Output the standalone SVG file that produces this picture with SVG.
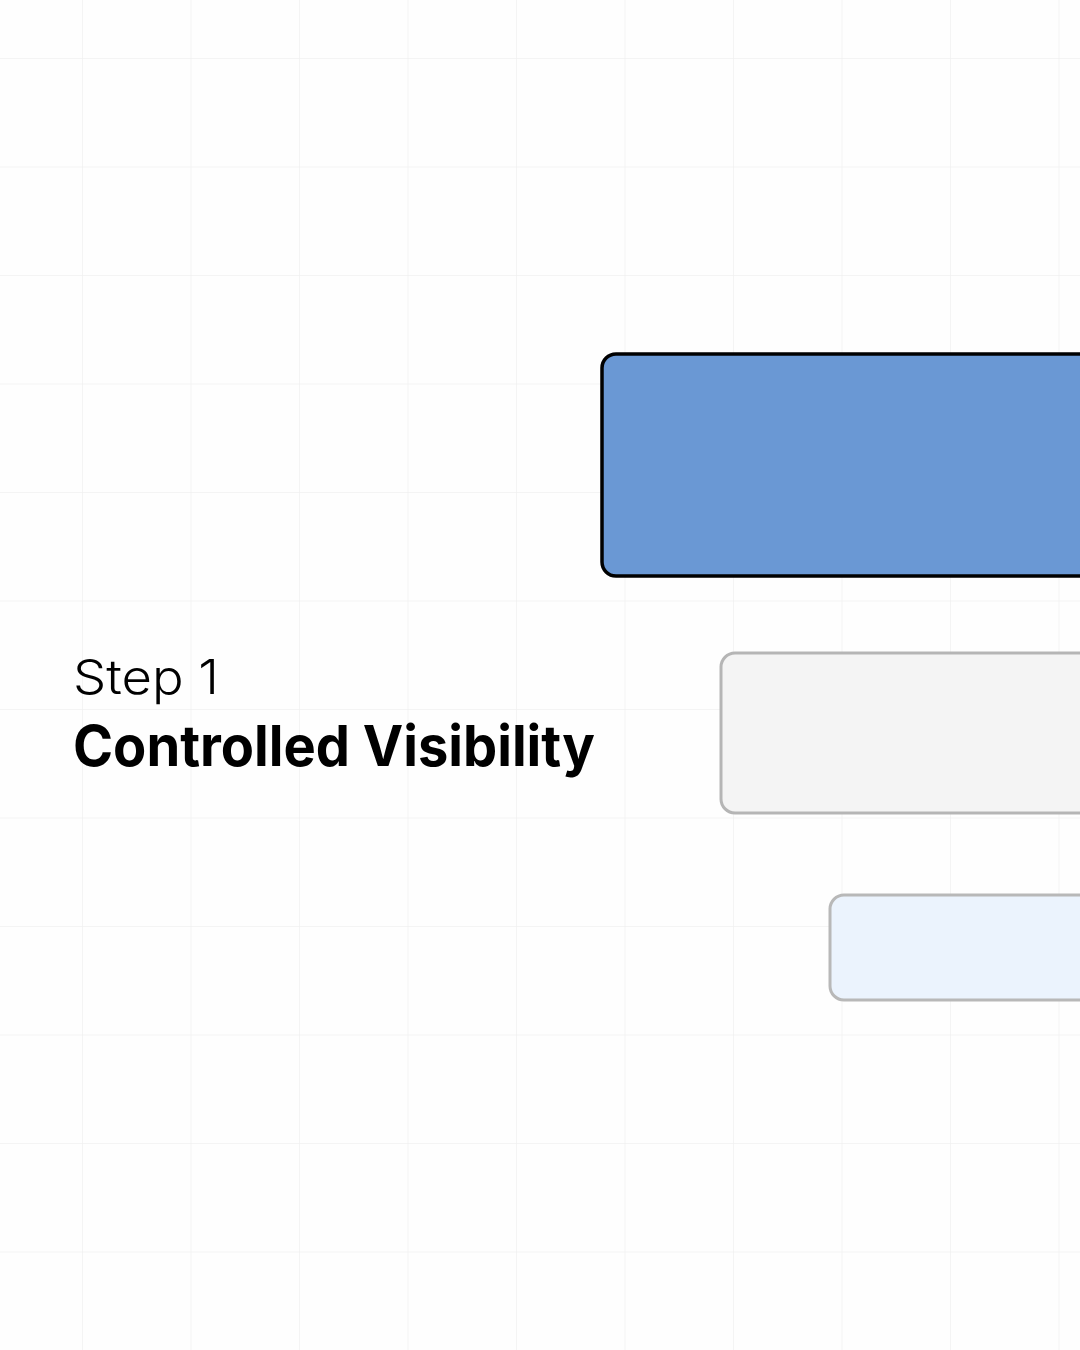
<svg xmlns="http://www.w3.org/2000/svg" width="1080" height="1350" viewBox="0 0 1080 1350">
  <defs>
    <pattern id="grid" x="82" y="58" width="108.5" height="108.5" patternUnits="userSpaceOnUse">
      <path d="M0 0 H108.5 M0 0 V108.5" fill="none" stroke="#f1f1f1" stroke-width="1.5"/>
    </pattern>
  </defs>
  <style>
    .box { stroke-width: 3; }
    .step { font-family: Inter, "Open Sans", "Liberation Sans", sans-serif; font-weight: 300; font-size: 48px; fill: #000; }
    .title { font-family: Inter, "Open Sans", "Liberation Sans", sans-serif; font-weight: 700; font-size: 56px; fill: #000; }
  </style>
  <rect width="1080" height="1350" fill="#fefefe"/>
  <rect width="1080" height="1350" fill="url(#grid)"/>
  <g id="connectors"></g>
  <g id="node-blue">
    <rect x="602" y="354" width="500" height="222" rx="14" fill="#6a98d4" stroke="#000" stroke-width="3.5"/>
  </g>
  <g id="node-gray">
    <rect class="box" x="721" y="653" width="400" height="160" rx="14" fill="#f4f4f4" stroke="#b5b5b5"/>
  </g>
  <g id="node-lightblue">
    <rect class="box" x="830" y="895" width="300" height="105" rx="14" fill="#ebf3fd" stroke="#b8b8b8"/>
  </g>
  <g id="label">
    <text class="step" x="73" y="694" textLength="146" lengthAdjust="spacingAndGlyphs">Step 1</text>
    <text class="title" x="73" y="766" textLength="522" lengthAdjust="spacingAndGlyphs">Controlled Visibility</text>
  </g>
</svg>
